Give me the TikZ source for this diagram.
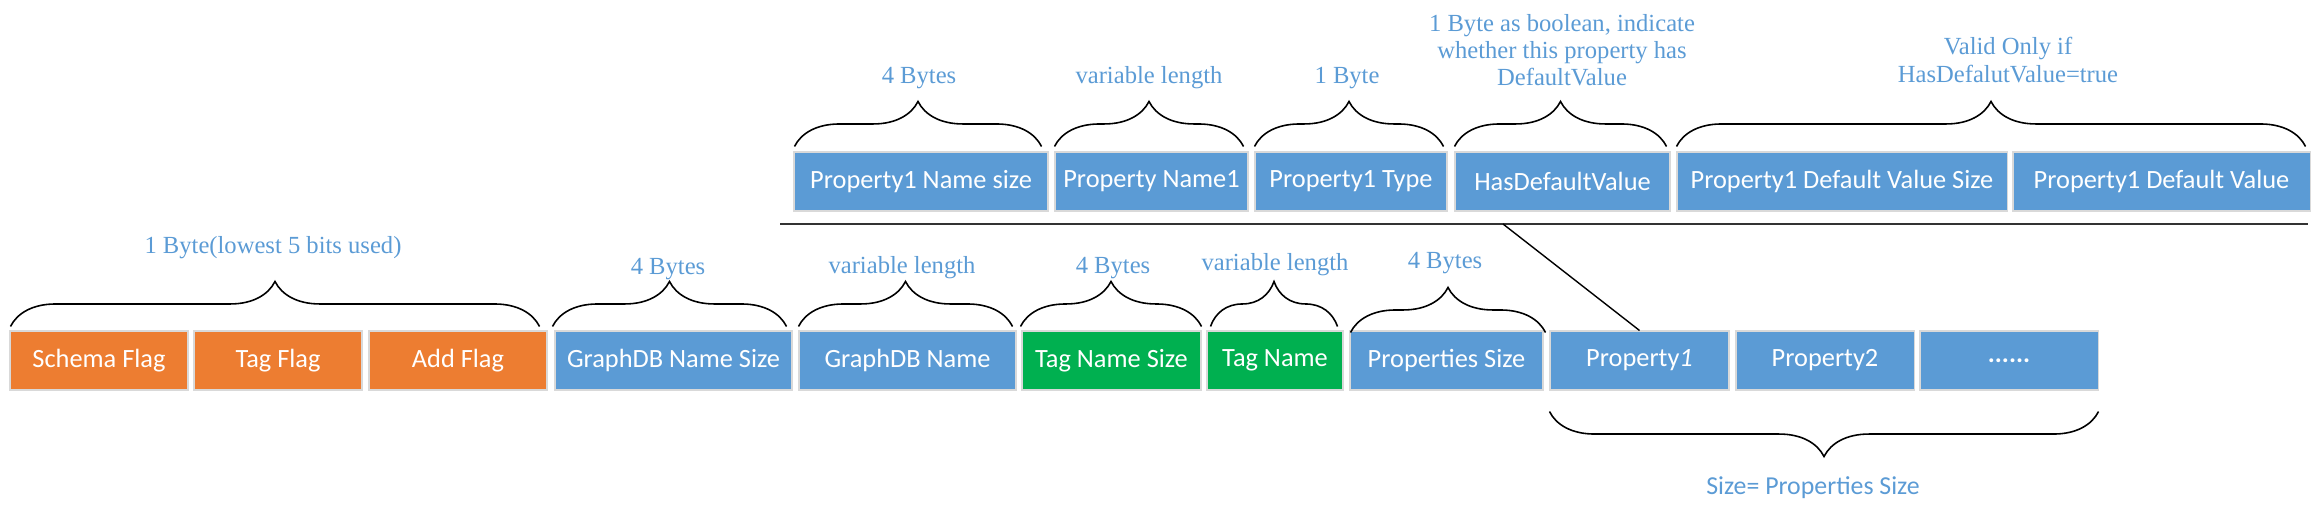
\documentclass[tikz,border=0pt]{standalone}
\usepackage{fontspec}
\setmainfont{Liberation Serif}
\newfontfamily\boxfont{Carlito}
\usetikzlibrary{decorations.pathreplacing}

\definecolor{fieldblue}{HTML}{5B9BD5}
\definecolor{flagorange}{HTML}{ED7D31}
\definecolor{taggreen}{HTML}{00B050}
\definecolor{labelblue}{HTML}{5B9BD5}

\tikzset{
  field/.style={draw=black!15, line width=0.6pt, text=white, inner sep=0pt,
    minimum height=11.8mm, font=\boxfont\fontsize{15}{18}\selectfont},
  flagfield/.style={field, fill=flagorange},
  bluefield/.style={field, fill=fieldblue},
  tagfield/.style={field, fill=taggreen},
  sizelabel/.style={text=labelblue, align=center, inner sep=0pt,
    font=\fontsize{14}{15.4}\selectfont},
  bytebrace/.style={decorate, decoration={brace, amplitude=9mm}, line width=0.9pt},
}

\begin{document}
\begin{tikzpicture}[x=0.2mm, y=-0.2mm]
\useasboundingbox (0,0) rectangle (2321,517);

% record
\node[flagfield, minimum width=35.6mm] (schema) at (99,360.5) {Schema Flag};
\node[flagfield, minimum width=33.6mm] (tagflag) at (278,360.5) {Tag Flag};
\node[flagfield, minimum width=35.6mm] (addflag) at (458,360.5) {Add Flag};
\node[bluefield, minimum width=47.4mm] (gdbsize) at (673.5,360.5) {GraphDB Name Size};
\node[bluefield, minimum width=43.4mm] (gdbname) at (907.5,360.5) {GraphDB Name};
\node[tagfield, minimum width=35.8mm] (tagsize) at (1111.5,360.5) {Tag Name Size};
\node[tagfield, minimum width=27.2mm] (tagname) at (1275,360.5) {Tag Name};
\node[bluefield, minimum width=38.6mm] (propsize) at (1446.5,360.5) {Properties Size};
\node[bluefield, minimum width=35.8mm] (prop1) at (1639.5,360.5) {Property\textit{1}};
\node[bluefield, minimum width=35.6mm] (prop2) at (1825,360.5) {Property2};
\node[bluefield, minimum width=35.6mm] (dots) at (2009,360.5) {\textbf{......}};

% one property
\node[bluefield, minimum width=50.8mm] (pnamesize) at (921,181.5) {Property1 Name size};
\node[bluefield, minimum width=38.6mm] (pname) at (1151.5,181.5) {Property Name1};
\node[bluefield, minimum width=38.4mm] (ptype) at (1351,181.5) {Property1 Type};
\node[bluefield, minimum width=43mm] (hasdef) at (1562.5,181.5) {HasDefaultValue};
\node[bluefield, minimum width=66mm] (defsize) at (1842,181.5) {Property1 Default Value Size};
\node[bluefield, minimum width=59.4mm] (defval) at (2161.5,181.5) {Property1 Default Value};

\coordinate (sepL) at (780,224);
\coordinate (sepR) at (2308,224);
\coordinate (sepA) at (1503,224);
\draw[line width=1.4pt, black!80] (sepL) -- (sepR);
\draw[line width=0.8pt] (sepA) -- (prop1.north);

% braces
\draw[bytebrace] ([xshift=0.2mm,yshift=0.8mm]schema.north west) -- ([xshift=-1.6mm,yshift=0.8mm]addflag.north east);
\draw[bytebrace] ([xshift=-0.4mm,yshift=0.8mm]gdbsize.north west) -- ([xshift=-1.2mm,yshift=0.8mm]gdbsize.north east);
\draw[bytebrace] ([xshift=0mm,yshift=0.8mm]gdbname.north west) -- ([xshift=-0.8mm,yshift=0.8mm]gdbname.north east);
\draw[bytebrace] ([xshift=-0.2mm,yshift=0.8mm]tagsize.north west) -- ([xshift=0mm,yshift=0.8mm]tagsize.north east);
\draw[bytebrace] ([xshift=0.8mm,yshift=0.8mm]tagname.north west) -- ([xshift=-1.2mm,yshift=0.8mm]tagname.north east);
\draw[bytebrace] ([xshift=0.2mm,yshift=-0.4mm]propsize.north west) -- ([xshift=0.4mm,yshift=-0.4mm]propsize.north east);

\draw[bytebrace] ([xshift=0.2mm,yshift=1mm]pnamesize.north west) -- ([xshift=-1.4mm,yshift=1mm]pnamesize.north east);
\draw[bytebrace] ([xshift=0mm,yshift=1mm]pname.north west) -- ([xshift=-1mm,yshift=1mm]pname.north east);
\draw[bytebrace] ([xshift=0mm,yshift=1mm]ptype.north west) -- ([xshift=-0.8mm,yshift=1mm]ptype.north east);
\draw[bytebrace] ([xshift=0mm,yshift=1mm]hasdef.north west) -- ([xshift=-0.8mm,yshift=1mm]hasdef.north east);
\draw[bytebrace] ([xshift=0mm,yshift=1mm]defsize.north west) -- ([xshift=-1mm,yshift=1mm]defval.north east);

\draw[bytebrace] ([yshift=-4.2mm]dots.south east) -- ([yshift=-4.2mm]prop1.south west);

% sizes
\node[sizelabel] (lflags) at (273,248) {1 Byte(lowest 5 bits used)};
\node[sizelabel] (lgdbsize) at (668,269) {4 Bytes};
\node[sizelabel] (lgdbname) at (902,268) {variable length};
\node[sizelabel] (ltagsize) at (1113,268) {4 Bytes};
\node[sizelabel] (ltagname) at (1275,265) {variable length};
\node[sizelabel] (lpropsize) at (1445,263) {4 Bytes};

\node[sizelabel] (lpnamesize) at (919,78) {4 Bytes};
\node[sizelabel] (lpname) at (1149,78) {variable length};
\node[sizelabel] (lptype) at (1347,78) {1 Byte};
\node[sizelabel] (lhasdef) at (1562,50) {1 Byte as boolean, indicate\\whether this property has\\DefaultValue};
\node[sizelabel] (ldef) at (2008,60) {Valid Only if\\HasDefalutValue=true};

\node[sizelabel, font=\boxfont\fontsize{14.7}{17}\selectfont] (lprops) at (1813,488) {Size= Properties Size};
\end{tikzpicture}
\end{document}
